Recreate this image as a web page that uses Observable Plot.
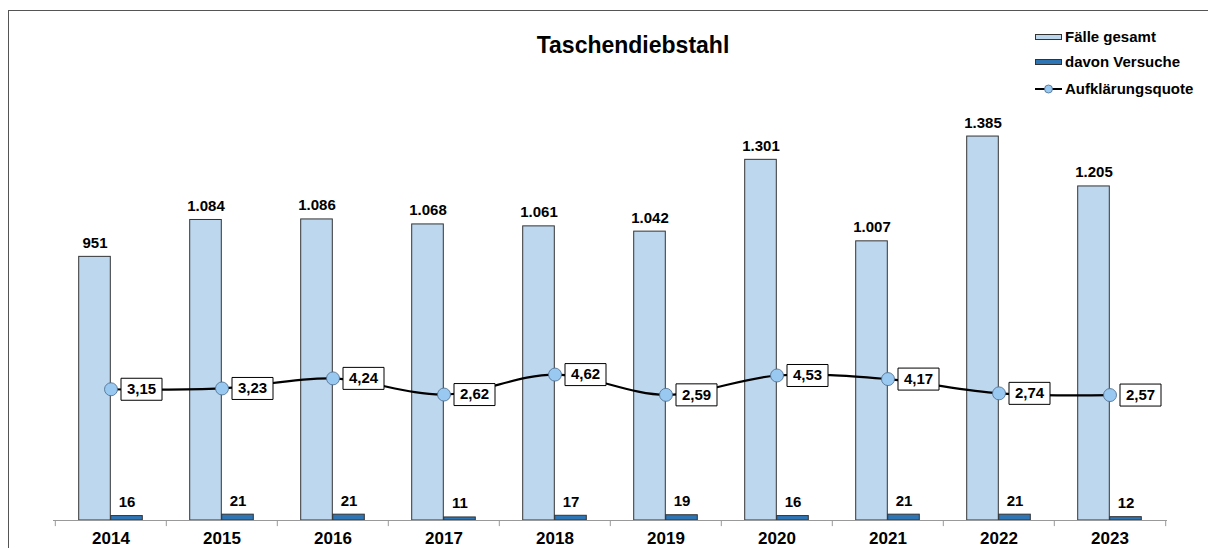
<!DOCTYPE html>
<html><head><meta charset="utf-8">
<script src="https://cdn.jsdelivr.net/npm/d3@7"></script>
<script src="https://cdn.jsdelivr.net/npm/@observablehq/plot@0.6"></script>
<style>
body{margin:0;background:#fff;font-family:"Liberation Sans",Arial,sans-serif;}
#wrap{position:relative;width:1208px;height:548px;overflow:hidden;background:#fff;}
#frame{position:absolute;left:8px;top:10px;right:-5px;bottom:-5px;border-left:1px solid #555;border-top:1px solid #555;pointer-events:none;}
#title{position:absolute;left:433px;width:400px;top:34px;text-align:center;font-size:23px;line-height:23px;font-weight:bold;color:#000;}
.leg{position:absolute;left:1035px;height:20px;display:flex;align-items:center;font-size:15px;line-height:20px;font-weight:bold;color:#000;white-space:nowrap;}
.sw{display:inline-block;width:25px;height:4px;border:1px solid #333;margin-right:3px;}
#chart svg{position:absolute;left:0;top:0;}
</style>
</head><body>
<div id="wrap">
  <div id="chart"></div>
  <div id="title">Taschendiebstahl</div>
  <div id="legend"></div>
  <div id="frame"></div>
</div>
<script>
const years = ["2014","2015","2016","2017","2018","2019","2020","2021","2022","2023"];
const faelle = [951,1084,1086,1068,1061,1042,1301,1007,1385,1205];
const versuche = [16,21,21,11,17,19,16,21,21,12];
const quote = [3.15,3.23,4.24,2.62,4.62,2.59,4.53,4.17,2.74,2.57];
const seriesNames = ["Fälle gesamt","davon Versuche","Aufklärungsquote"];
const colors = {faelle:"#BDD7EE", versuche:"#2E75B6", dot:"#99C8F0"};

const de = d3.formatLocale({decimal:",", thousands:".", grouping:[3], currency:["","€"]});
const fmtN = de.format(",d");
const fmtQ = de.format(",.2f");

const rows = years.map((y,i)=>({year:y, faelle:faelle[i], versuche:versuche[i], quote:quote[i]}));

const W = 1208, H = 548, mL = 53, mR = 41;
const bw = (W - mL - mR) / years.length;
const barW = 32;
// secondary axis (rate) mapped onto primary axis units
const r2y = d3.scaleLinear().domain([-10, 40]).range([0, 1800]);

const boxSymbol = {draw(ctx){ ctx.moveTo(-20.5,-11); ctx.lineTo(20.5,-11); ctx.lineTo(20.5,11); ctx.lineTo(-20.5,11); ctx.closePath(); }};

const chart = Plot.plot({
  width: W, height: H,
  marginLeft: mL, marginRight: mR, marginTop: 21, marginBottom: 28,
  style: {fontFamily: '"Liberation Sans", Arial, sans-serif', background: "transparent", color: "#000"},
  x: {type: "band", domain: years, padding: 0, label: null},
  y: {domain: [0, 1800], axis: null},
  marks: [
    Plot.barY(rows, {x: "year", y: "faelle", fill: colors.faelle, stroke: "#333", strokeWidth: 1, insetLeft: bw/2 - barW, insetRight: bw/2}),
    Plot.barY(rows, {x: "year", y: "versuche", fill: colors.versuche, stroke: "#333", strokeWidth: 1, insetLeft: bw/2, insetRight: bw/2 - barW}),
    Plot.ruleY([0], {stroke: "#999"}),
    Plot.ruleX(years, {x: d => d, y1: 0, y2: -22, dx: -bw/2, stroke: "#999"}),
    Plot.ruleX([years[years.length-1]], {x: d => d, y1: 0, y2: -22, dx: bw/2, stroke: "#999"}),
    Plot.axisX({tickSize: 0, tickPadding: 11, fontSize: 17, fontWeight: "bold", fill: "#000", label: null}),
    Plot.text(rows, {x: "year", y: "faelle", text: d => fmtN(d.faelle), dx: -barW/2, dy: -9, lineAnchor: "bottom", fontSize: 15, fontWeight: "bold", fill: "#000"}),
    Plot.text(rows, {x: "year", y: "versuche", text: d => fmtN(d.versuche), dx: barW/2, dy: -9, lineAnchor: "bottom", fontSize: 15, fontWeight: "bold", fill: "#000"}),
    Plot.line(rows, {x: "year", y: d => r2y(d.quote), curve: "catmull-rom", stroke: "#000", strokeWidth: 2.2}),
    Plot.dot(rows, {x: "year", y: d => r2y(d.quote), symbol: boxSymbol, r: 5, fill: "#fff", stroke: "#000", strokeWidth: 1, dx: 30.5}),
    Plot.dot(rows, {x: "year", y: d => r2y(d.quote), r: 6.5, fill: colors.dot, stroke: "#4a6a8a", strokeWidth: 0.8}),
    Plot.text(rows, {x: "year", y: d => r2y(d.quote), text: d => fmtQ(d.quote), dx: 30.5, lineAnchor: "middle", fontSize: 15, fontWeight: "bold", fill: "#000"})
  ]
});
document.getElementById("chart").appendChild(chart);

const leg = document.getElementById("legend");
const tops = [27, 52, 79];
seriesNames.forEach((name, i) => {
  const row = document.createElement("div");
  row.className = "leg";
  row.style.top = tops[i] + "px";
  if (i < 2) {
    const sw = document.createElement("span");
    sw.className = "sw";
    sw.style.background = i === 0 ? colors.faelle : colors.versuche;
    row.appendChild(sw);
  } else {
    const ns = "http://www.w3.org/2000/svg";
    const s = document.createElementNS(ns, "svg");
    s.setAttribute("width", 27); s.setAttribute("height", 12);
    s.style.marginRight = "3px";
    const l = document.createElementNS(ns, "line");
    l.setAttribute("x1", 0); l.setAttribute("x2", 27); l.setAttribute("y1", 6); l.setAttribute("y2", 6);
    l.setAttribute("stroke", "#000"); l.setAttribute("stroke-width", 2);
    const c = document.createElementNS(ns, "circle");
    c.setAttribute("cx", 13.5); c.setAttribute("cy", 6); c.setAttribute("r", 4);
    c.setAttribute("fill", colors.dot); c.setAttribute("stroke", "#4a6a8a"); c.setAttribute("stroke-width", 0.8);
    s.appendChild(l); s.appendChild(c);
    row.appendChild(s);
  }
  row.appendChild(document.createTextNode(name));
  leg.appendChild(row);
});
</script>
</body></html>
